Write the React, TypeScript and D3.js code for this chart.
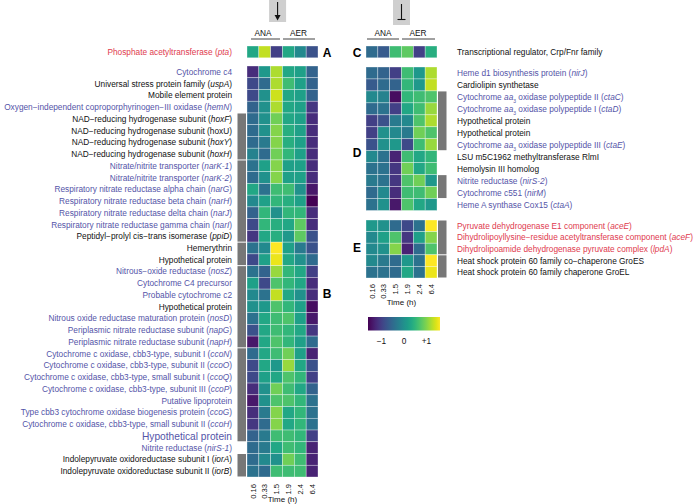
import React from 'react';
import * as d3 from 'd3';

// ---------- data ----------
const times = ['0.16', '0.33', '1.5', '1.9', '2.4', '6.4'];
const colorTicks = [-1, 0, 1];
const colorTickLabels = ['\u22121', '0', '+1'];

const panelALabels = ['Phosphate acetyltransferase (*pta*)'];
const panelAColors = ['r'];
const panelAValues = [[0.3, 1.3, -1.0, 0.3, -0.1, -0.8]];

const panelBLabels = [
  'Cytochrome c4',
  'Universal stress protein family (*uspA*)',
  'Mobile element protein',
  'Oxygen\u2212independent coproporphyrinogen\u2212III oxidase (*hemN*)',
  'NAD\u2212reducing hydrogenase subunit (*hoxF*)',
  'NAD\u2212reducing hydrogenase subunit (hoxU)',
  'NAD\u2212reducing hydrogenase subunit (*hoxY*)',
  'NAD\u2212reducing hydrogenase subunit (*hoxH*)',
  'Nitrate/nitrite transporter (*narK-1*)',
  'Nitrate/nitrite transporter (*narK-2*)',
  'Respiratory nitrate reductase alpha chain (*narG*)',
  'Respiratory nitrate reductase beta chain (*narH*)',
  'Respiratory nitrate reductase delta chain (*narJ*)',
  'Respiratory nitrate reductase gamma chain (*narI*)',
  'Peptidyl\u2212prolyl cis\u2212trans isomerase (*ppiD*)',
  'Hemerythrin',
  'Hypothetical protein',
  'Nitrous\u2212oxide reductase (*nosZ*)',
  'Cytochrome C4 precursor',
  'Probable cytochrome c2',
  'Hypothetical protein',
  'Nitrous oxide reductase maturation protein (*nosD*)',
  'Periplasmic nitrate reductase subunit (*napG*)',
  'Periplasmic nitrate reductase subunit (*napH*)',
  'Cytochrome c oxidase, cbb3-type, subunit I (*ccoN*)',
  'Cytochrome c oxidase, cbb3-type, subunit II  (*ccoO*)',
  'Cytochrome c oxidase, cbb3-type, small subunit I (*ccoQ*)',
  'Cytochrome c oxidase, cbb3-type, subunit III (*ccoP*)',
  'Putative lipoprotein',
  'Type cbb3 cytochrome oxidase biogenesis protein (*ccoG*)',
  'Cytochrome c oxidase, cbb3-type, small subunit II (*ccoH*)',
  'Hypothetical protein',
  'Nitrite reductase (*nirS-1*)',
  'Indolepyruvate oxidoreductase subunit I (*iorA*)',
  'Indolepyruvate oxidoreductase subunit II (*iorB*)',
];
const panelBColors = ['b','k','k','b','k','k','k','k','b','b','b','b','b','b','k','k','k','b','b','b','k','b','b','b','b','b','b','b','b','b','b','b','b','k','k'];
const panelBBig = [31];
const panelBValues = [
  [-1.2, 0.1, 1.2, 0.3, 0.2, -0.6],
  [-0.9, -0.5, 1.2, 0.6, 0.2, -0.6],
  [-0.9, 0.0, 1.35, 0.3, 0.2, -0.6],
  [-0.6, 0.0, 1.2, 0.3, 0.2, -1.1],
  [-0.5, 0.0, 0.9, 0.3, 0.2, -1.2],
  [-0.5, 0.0, 1.0, 0.4, 0.2, -1.2],
  [-0.5, -0.3, 1.0, 0.4, 0.2, -1.2],
  [-0.2, -0.5, 0.9, 0.5, 0.2, -1.2],
  [-0.4, 0.2, 1.0, 0.2, 0.2, -1.2],
  [-0.5, 0.0, 1.0, 0.2, 0.2, -1.2],
  [0.3, -0.4, 0.6, 0.6, 0.0, -1.4],
  [-0.1, 0.2, 0.5, 0.4, 0.2, -1.6],
  [-0.6, 0.5, 0.0, 0.5, 0.5, -1.2],
  [-0.9, 0.5, 0.4, 0.3, 0.8, -1.2],
  [-1.1, 0.3, 0.4, 0.1, 0.8, -0.8],
  [-0.4, -0.1, 1.7, 0.2, -0.3, -0.8],
  [-0.9, 0.2, 1.5, 0.3, 0.0, -0.5],
  [-0.4, -0.6, 1.1, 0.5, 0.3, -1.0],
  [0.2, -0.9, 0.7, 0.5, 0.3, -1.2],
  [-0.1, -0.4, 1.3, 0.3, 0.0, -1.2],
  [0.0, 0.1, 0.7, 0.5, 0.2, -1.5],
  [-0.4, 0.3, 0.6, 0.7, 0.2, -1.4],
  [-0.8, 0.3, 0.6, 0.5, 0.3, -1.1],
  [-1.4, 0.3, 0.7, 0.5, 0.2, -0.5],
  [-0.5, 0.3, 0.6, 0.9, 0.2, -1.3],
  [-0.9, 0.3, 0.1, 1.1, 0.3, -0.8],
  [-0.9, 0.2, 0.3, 0.7, 0.5, -1.0],
  [-1.2, 0.0, 0.9, 0.6, 0.3, -0.6],
  [-1.4, 0.0, 0.7, 0.7, 0.5, -0.4],
  [-1.2, -0.3, 1.0, 0.3, 0.5, -0.4],
  [-1.1, -0.5, 1.0, 0.3, 0.5, -0.4],
  [-0.6, -0.3, 0.6, 0.6, 0.5, -1.0],
  [-0.5, -0.3, 0.3, 0.6, 0.5, -1.3],
  [-0.5, -0.1, 0.0, 0.9, 0.6, -1.3],
  [-0.4, -0.5, 0.6, 0.6, 0.6, -1.3],
];
const panelBGroups = [[4, 7], [8, 14], [15, 16], [17, 23], [24, 31], [33, 34]];

const panelCLabels = ['Transcriptional regulator, Crp/Fnr family'];
const panelCColors = ['k'];
const panelCValues = [[-0.5, -0.7, 0.6, 0.8, -1.0, 0.4]];

const panelDLabels = [
  'Heme d1 biosynthesis protein (*nirJ*)',
  'Cardiolipin synthetase',
  'Cytochrome *aa*_3 oxidase polypeptide II (*ctaC*)',
  'Cytochrome *aa*_3 oxidase polypeptide I (*ctaD*)',
  'Hypothetical protein',
  'Hypothetical protein',
  'Cytochrome *aa*_3 oxidase polypeptide III (*ctaE*)',
  'LSU m5C1962 methyltransferase RlmI',
  'Hemolysin III homolog',
  'Nitrite reductase (*nirS-2*)',
  'Cytochrome c551 (*nirM*)',
  'Heme A synthase Cox15 (*ctaA*)',
];
const panelDColors = ['b','k','b','b','k','k','b','k','k','b','b','b'];
const panelDValues = [
  [-0.5, -0.6, -1.0, 0.6, 0.1, 1.2],
  [-0.7, -0.5, -0.6, 0.5, 0.1, 1.3],
  [-0.1, -0.2, -1.5, 0.5, 0.6, 0.7],
  [-0.5, -0.4, -1.0, 0.3, 0.6, 1.1],
  [-1.0, -0.8, -0.3, -0.1, 0.7, 1.2],
  [-1.0, 0.0, -0.1, -0.3, 0.9, 0.7],
  [-0.8, 0.0, 0.1, -0.9, 0.6, 1.1],
  [-0.1, -0.4, -1.3, 0.6, 0.3, 0.5],
  [-0.4, -0.4, -1.1, 0.9, 0.3, 0.6],
  [-0.3, -0.4, -1.1, 0.7, 0.9, 0.1],
  [-0.5, -0.1, -1.2, 0.6, 0.6, 0.9],
  [-0.4, 0.0, -1.4, 0.7, 0.3, 0.1],
];
const panelDGroups = [[2, 6], [9, 10]];

const panelELabels = [
  'Pyruvate dehydrogenase E1 component (*aceE*)',
  'Dihydrolipoyllysine\u2212residue acetyltransferase component (*aceF*)',
  'Dihydrolipoamide dehydrogenase pyruvate complex (*lpdA*)',
  'Heat shock protein 60 family co\u2212chaperone GroES',
  'Heat shock protein 60 family chaperone GroEL',
];
const panelEColors = ['r', 'r', 'r', 'k', 'k'];
const panelEValues = [
  [0.1, 0.0, -0.5, -0.9, -0.4, 1.7],
  [-0.1, 0.2, 0.7, -1.1, 0.2, 1.0],
  [-0.1, 0.0, 1.0, -1.3, -0.5, 0.7],
  [-0.1, -0.3, -0.5, 0.1, -0.4, 1.6],
  [-0.4, -0.4, -0.5, 0.3, -0.4, 1.5],
];
const panelEGroups = [[0, 2], [3, 4]];

// ---------- style ----------
const FONT = 'Liberation Sans, Arial, Helvetica, sans-serif';
const FS = 8.3;
const TEXT_COLORS: Record<string, string> = { b: '#5454a8', k: '#111111', r: '#e03a4e' };
const GRAY = '#777777';

const color = d3.scaleSequential(d3.interpolateViridis).domain([-1.6, 1.6]);

function renderLabel(str: string, size: number) {
  const parts = str.split(/(\*[^*]+\*|_\d)/).filter((p) => p !== '');
  return parts.map((p, i) => {
    if (p.startsWith('*')) return <tspan key={i} fontStyle="italic">{p.slice(1, -1)}</tspan>;
    if (p.startsWith('_')) return <tspan key={i} fontSize={size * 0.6} baselineShift="sub">{p.slice(1)}</tspan>;
    return <tspan key={i}>{p}</tspan>;
  });
}

type BlockProps = {
  values: number[][];
  labels: string[];
  colors: string[];
  x0: number; x1: number; y0: number; y1: number;
  side: 'left' | 'right';
  groups?: number[][];
  big?: number[];
};

function Block({ values, labels, colors, x0, x1, y0, y1, side, groups = [], big = [] }: BlockProps) {
  const x = d3.scaleBand<number>().domain(d3.range(times.length)).range([x0, x1]);
  const y = d3.scaleBand<number>().domain(d3.range(values.length)).range([y0, y1]);
  const labelX = side === 'left' ? 232 : 457;
  const barX = side === 'left' ? x0 - 9.5 : x1 + 1;
  return (
    <g>
      {values.map((row, r) =>
        row.map((v, c) => (
          <rect key={`${r}-${c}`} x={x(c)} y={y(r)} width={x.bandwidth()} height={y.bandwidth()}
            fill={color(v)} stroke="#ffffff" strokeOpacity={0.55} strokeWidth={0.6} />
        ))
      )}
      {groups.map(([a, b], i) => (
        <rect key={`g${i}`} x={barX} y={(y(a) as number) + 0.5} width={8.5}
          height={(y(b) as number) + y.bandwidth() - (y(a) as number) - 1} fill={GRAY} />
      ))}
      {labels.map((l, r) => {
        const fs = big.includes(r) ? 10.2 : FS;
        return (
          <text key={`l${r}`} x={labelX} y={(y(r) as number) + y.bandwidth() / 2 + fs * 0.36}
            fontSize={fs} fill={TEXT_COLORS[colors[r]]} textAnchor={side === 'left' ? 'end' : 'start'}>
            {renderLabel(l, fs)}
          </text>
        );
      })}
    </g>
  );
}

function TimeAxis({ x0, x1, top, titleY }: { x0: number; x1: number; top: number; titleY: number }) {
  const x = d3.scaleBand<string>().domain(times).range([x0, x1]);
  return (
    <g fontSize={7.6} fill="#111">
      {times.map((t) => {
        const cx = (x(t) as number) + x.bandwidth() / 2 + 2.7;
        return (
          <text key={t} transform={`translate(${cx},${top}) rotate(-90)`} textAnchor="end">{t}</text>
        );
      })}
      <text x={(x0 + x1) / 2} y={titleY} textAnchor="middle" fontSize={8}>Time (h)</text>
    </g>
  );
}

function Header({ x0, x1, kind }: { x0: number; x1: number; kind: 'arrow' | 'bar' }) {
  const x = d3.scaleBand<number>().domain(d3.range(times.length)).range([x0, x1]);
  const anaMid = kind === 'arrow' ? 263 : 383;
  const aerMid = kind === 'arrow' ? 298.5 : 418;
  const cx = kind === 'arrow' ? (x(2) as number) + x.bandwidth() / 2 + 1 : (x(3) as number);
  return (
    <g>
      {kind === 'arrow' ? (
        <g>
          <rect x={cx - 8.5} y={0} width={17} height={22} fill="#cfcfcf" />
          <line x1={cx} x2={cx} y1={2} y2={17} stroke="#111" strokeWidth={1.1} />
          <path d={`M${cx - 3},${15} L${cx + 3},${15} L${cx},${20.5} Z`} fill="#111" />
        </g>
      ) : (
        <g>
          <rect x={cx - 8.5} y={0} width={17} height={25} fill="#cfcfcf" />
          <line x1={cx} x2={cx} y1={4} y2={19.5} stroke="#111" strokeWidth={1.1} />
          <line x1={cx - 4} x2={cx + 4} y1={19.5} y2={19.5} stroke="#111" strokeWidth={1.1} />
        </g>
      )}
      <text x={anaMid} y={36} fontSize={8.3} textAnchor="middle" fill="#111">ANA</text>
      <text x={aerMid} y={36} fontSize={8.3} textAnchor="middle" fill="#111">AER</text>
      <line x1={kind === 'arrow' ? 251 : 367} x2={kind === 'arrow' ? 280 : 399} y1={39} y2={39} stroke="#111" strokeWidth={0.8} />
      <line x1={kind === 'arrow' ? 283 : 402} x2={kind === 'arrow' ? 315 : 435} y1={39} y2={39} stroke="#111" strokeWidth={0.8} />
    </g>
  );
}

function ColorBar() {
  const x = d3.scaleLinear().domain([-1.6, 1.6]).range([368, 440]);
  const stops = d3.range(0, 1.0001, 0.05);
  return (
    <g>
      <defs>
        <linearGradient id="cbar" x1="0" x2="1" y1="0" y2="0">
          {stops.map((s) => (
            <stop key={s} offset={s} stopColor={d3.interpolateViridis(s)} />
          ))}
        </linearGradient>
      </defs>
      <rect x={368} y={317} width={72} height={13.5} fill="url(#cbar)" />
      {colorTicks.map((t, i) => (
        <text key={t} x={x(t)} y={344} fontSize={8.3} textAnchor="middle" fill="#111">{colorTickLabels[i]}</text>
      ))}
    </g>
  );
}

export default function App() {
  return (
    <div style={{ position: 'fixed', left: 0, top: 0 }}>
      <svg width={696} height={504} fontFamily={FONT} style={{ display: 'block', background: '#fff' }}>
        <Header x0={247} x1={318} kind="arrow" />
        <Header x0={366} x1={437} kind="bar" />
        <Block values={panelAValues} labels={panelALabels} colors={panelAColors}
          x0={247} x1={318} y0={46} y1={57.8} side="left" />
        <Block values={panelBValues} labels={panelBLabels} colors={panelBColors}
          x0={247} x1={318} y0={66} y1={477} side="left" groups={panelBGroups} big={panelBBig} />
        <Block values={panelCValues} labels={panelCLabels} colors={panelCColors}
          x0={366} x1={437} y0={46} y1={57.8} side="right" />
        <Block values={panelDValues} labels={panelDLabels} colors={panelDColors}
          x0={366} x1={437} y0={67} y1={210.5} side="right" groups={panelDGroups} />
        <Block values={panelEValues} labels={panelELabels} colors={panelEColors}
          x0={366} x1={437} y0={220} y1={278} side="right" groups={panelEGroups} />
        <TimeAxis x0={247} x1={318} top={484} titleY={502} />
        <TimeAxis x0={366} x1={437} top={284} titleY={305} />
        <ColorBar />
        <g fontSize={12} fontWeight="bold" fill="#000" textAnchor="middle">
          <text x={327} y={56.5}>A</text>
          <text x={327} y={298}>B</text>
          <text x={357} y={56.5}>C</text>
          <text x={357} y={157}>D</text>
          <text x={357} y={252}>E</text>
        </g>
      </svg>
    </div>
  );
}
